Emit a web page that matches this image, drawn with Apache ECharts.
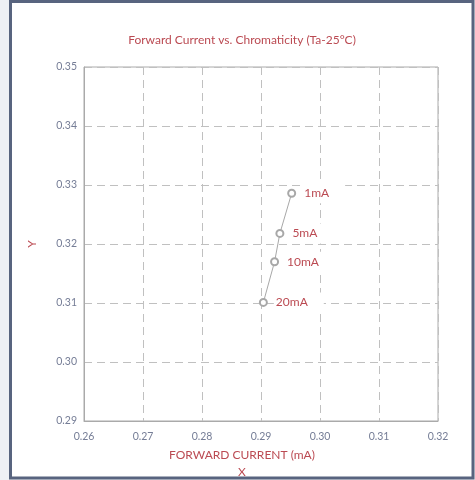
<!DOCTYPE html>
<html>
<head>
<meta charset="utf-8">
<script src="https://cdn.jsdelivr.net/npm/echarts@6/dist/echarts.min.js"></script>
<style>
  html, body { margin: 0; padding: 0; background: #eef0f5; }
  #chart { width: 475px; height: 480px; }
</style>
</head>
<body>
<div id="chart"></div>
<script>
// Chromaticity coordinates (x, y) measured at each forward current
const currents = ['1mA', '5mA', '10mA', '20mA'];
const chromaX = [0.2952, 0.2932, 0.2923, 0.2904];
const chromaY = [0.3286, 0.3218, 0.3170, 0.3101];

const xTicks = [0.26, 0.27, 0.28, 0.29, 0.30, 0.31, 0.32];
const yTicks = [0.29, 0.30, 0.31, 0.32, 0.33, 0.34, 0.35];

const red = '#bb4a52';
const tickColor = '#757d96';
const fontFamily = 'Lato, "Open Sans", sans-serif';

const points = currents.map((c, i) => ({ value: [chromaX[i], chromaY[i]], name: c }));

const chart = echarts.init(document.getElementById('chart'), null, { renderer: 'canvas' });
chart.setOption({
  backgroundColor: '#eef0f5',
  animation: false,
  graphic: {
    elements: [{
      type: 'rect',
      z: -100,
      silent: true,
      shape: { x: 10.5, y: 1.5, width: 462.5, height: 476.5 },
      style: { fill: '#ffffff', stroke: '#58647f', lineWidth: 3 }
    }]
  },
  title: {
    text: 'Forward Current vs. Chromaticity (Ta-25°C)',
    left: 237,
    top: 29,
    textAlign: 'center',
    textStyle: { color: red, fontSize: 12, fontWeight: 'normal', fontFamily }
  },
  grid: {
    left: 84, right: 37, top: 67, bottom: 59,
    outerBoundsMode: 'none',
    show: true, borderColor: '#aaaaaa', borderWidth: 1
  },
  xAxis: {
    type: 'value',
    min: xTicks[0],
    max: xTicks[xTicks.length - 1],
    interval: 0.01,
    name: 'FORWARD CURRENT (mA)\nX',
    nameLocation: 'middle',
    nameGap: 23,
    nameTextStyle: { color: red, fontSize: 12, fontFamily, lineHeight: 17, padding: [0, 38, 0, 0], verticalAlign: 'top' },
    axisLine: { lineStyle: { color: '#aaaaaa' } },
    axisTick: { show: false },
    axisLabel: {
      color: tickColor, fontSize: 10.5, fontFamily, margin: 10,
      formatter: v => v.toFixed(2)
    },
    splitLine: { show: true, lineStyle: { color: '#c0c0c0', type: [8, 5], width: 1 } }
  },
  yAxis: {
    type: 'value',
    min: yTicks[0],
    max: yTicks[yTicks.length - 1],
    interval: 0.01,
    name: 'Y',
    nameLocation: 'middle',
    nameGap: 46,
    nameTextStyle: { color: red, fontSize: 12, fontFamily },
    axisLine: { lineStyle: { color: '#aaaaaa' } },
    axisTick: { show: false },
    axisLabel: {
      color: tickColor, fontSize: 10.5, fontFamily, margin: 7,
      formatter: v => v.toFixed(2)
    },
    splitLine: { show: true, lineStyle: { color: '#c0c0c0', type: [8, 5], width: 1 } }
  },
  series: [{
    type: 'line',
    data: points,
    symbol: 'emptyCircle',
    symbolSize: 7,
    lineStyle: { color: '#a8a8a8', width: 1 },
    itemStyle: { color: '#a8a8a8', borderColor: '#a8a8a8', borderWidth: 1 },
    label: {
      show: true,
      position: 'right',
      distance: 6,
      formatter: p => p.name,
      color: red,
      fontSize: 12,
      fontFamily,
      backgroundColor: '#ffffff',
      padding: [4, 16, 4, 2]
    }
  }]
});
</script>
</body>
</html>
